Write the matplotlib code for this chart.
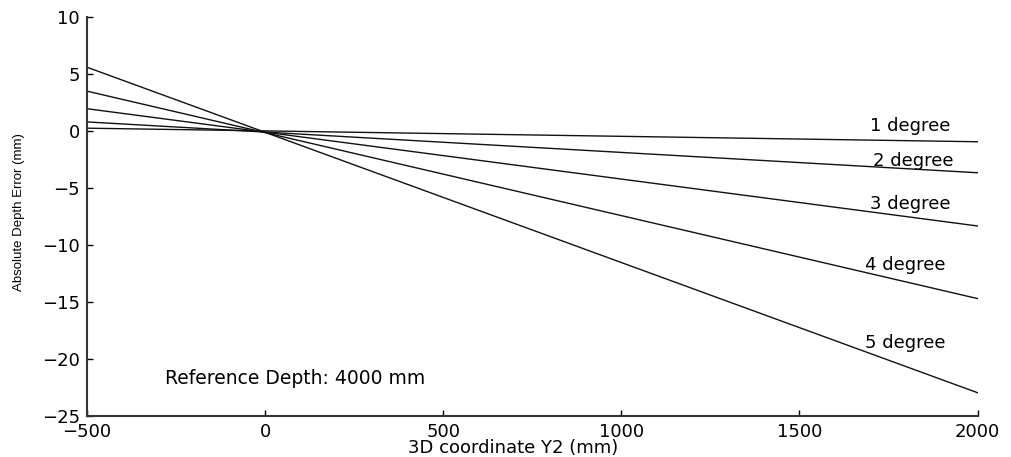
import numpy as np
import matplotlib
matplotlib.use("Agg")
import matplotlib.pyplot as plt

# endpoints of each error line (x in mm, error in mm)
y2_coords = [-500, 2000]
err_1deg = [0.25, -0.94]
err_2deg = [0.8, -3.66]
err_3deg = [1.96, -8.33]
err_4deg = [3.5, -14.7]
err_5deg = [5.6, -22.96]
series = [err_1deg, err_2deg, err_3deg, err_4deg, err_5deg]

label_names = ['1 degree', '2 degree', '3 degree', '4 degree', '5 degree']
label_x = [1697, 1705, 1697, 1683, 1683]
label_y = [0.4, -2.6, -6.4, -11.75, -18.6]

xticks = [-500, 0, 500, 1000, 1500, 2000]
yticks = [-25, -20, -15, -10, -5, 0, 5, 10]

plt.rcParams['font.family'] = ['DejaVu Sans']

fig = plt.figure(figsize=(10.11, 4.57), dpi=100)
ax = fig.add_axes([0.086, 0.0897, 0.881, 0.873])

for vals in series:
    ax.plot(y2_coords, vals, color='#111111', linewidth=1.0)

for name, lx, ly in zip(label_names, label_x, label_y):
    ax.text(lx, ly, name, fontsize=13, va='center', ha='left')

ax.text(-281, -21.75, 'Reference Depth: 4000 mm', fontsize=13.5, va='center', ha='left')

ax.set_xlim(-500, 2000)
ax.set_ylim(-25, 10)
ax.set_xticks(xticks)
ax.set_yticks(yticks)
ax.tick_params(direction='in', length=4, width=1, labelsize=13, pad=5)
ax.tick_params(axis='x', pad=5)
ax.spines['top'].set_visible(False)
ax.spines['right'].set_visible(False)
ax.spines['left'].set_linewidth(1.5)
ax.spines['bottom'].set_linewidth(1.5)
ax.spines['left'].set_color('#333333')
ax.spines['bottom'].set_color('#333333')

ax.set_xlabel('3D coordinate Y2 (mm)', fontsize=13)
ax.xaxis.set_label_coords(0.478, -0.058, transform=ax.transAxes)
ax.xaxis.label.set_va('top')
ax.set_ylabel('Absolute Depth Error (mm)', fontsize=9.5,
              family=['Liberation Sans Narrow', 'Liberation Sans'])
ax.yaxis.set_label_coords(-0.07, 0.511, transform=ax.transAxes)

fig.savefig('out.png', dpi=100)
